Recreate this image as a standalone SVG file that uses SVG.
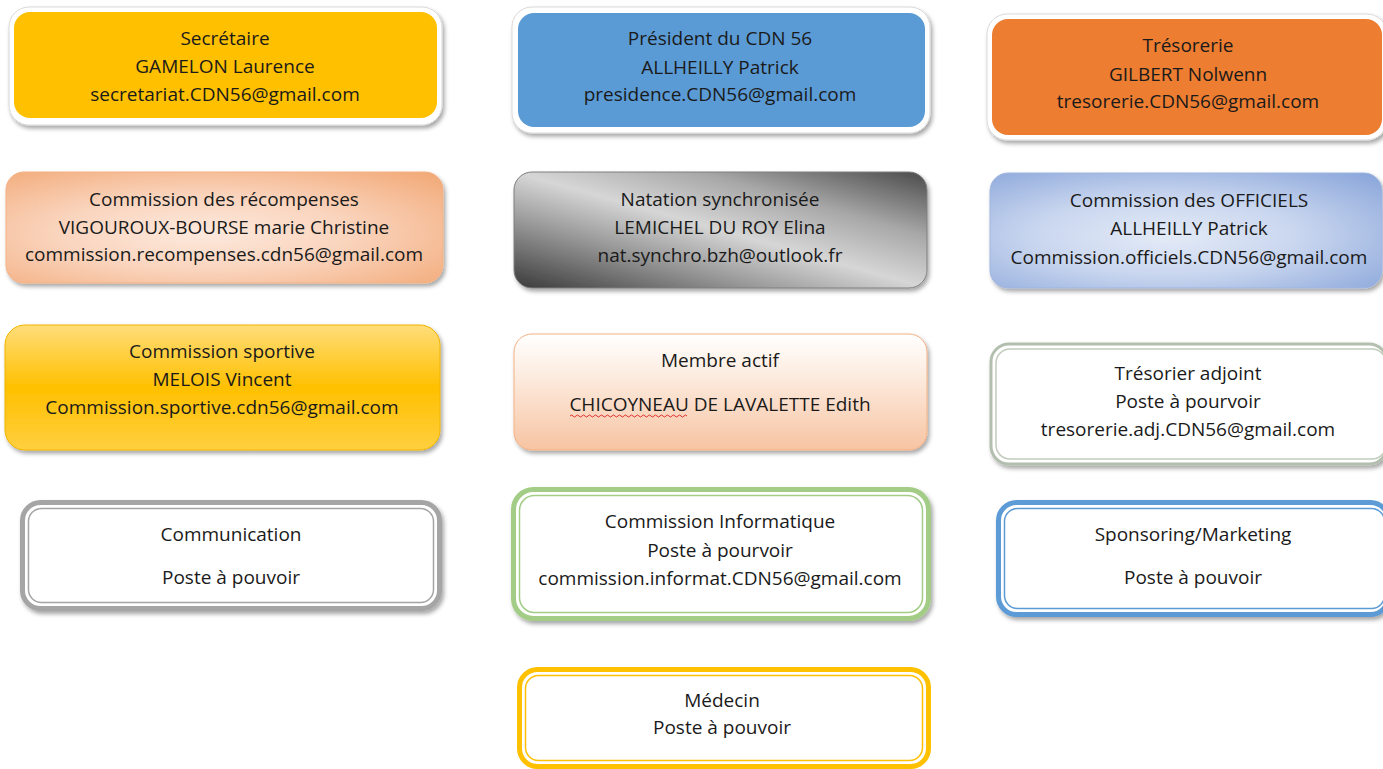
<svg xmlns="http://www.w3.org/2000/svg" width="1383" height="769" viewBox="0 0 1383 769">
<style>
text{font-family:"Open Sans","Noto Sans","Liberation Sans",sans-serif;font-size:19px;fill:#1a1a1a;text-anchor:middle}
.frame{fill:#ffffff;stroke:#d9d9d9;stroke-width:1}
.dbl{fill:none;stroke-width:1.5}
</style>
<defs>
<filter id="sh" x="-5%" y="-10%" width="112%" height="125%">
<feDropShadow dx="2" dy="3" stdDeviation="2" flood-color="#000" flood-opacity="0.35"/>
</filter>
<radialGradient id="gPeach" cx="0.45" cy="0.55" r="0.75">
<stop offset="0" stop-color="#fde9dd"/>
<stop offset="0.45" stop-color="#fad4bd"/>
<stop offset="1" stop-color="#f2a977"/>
</radialGradient>
<linearGradient id="gGray" x1="0" y1="1" x2="1" y2="0">
<stop offset="0" stop-color="#3a3a3a"/>
<stop offset="0.3" stop-color="#9a9a9a"/>
<stop offset="0.5" stop-color="#d6d6d6"/>
<stop offset="0.72" stop-color="#a8a8a8"/>
<stop offset="1" stop-color="#4a4a4a"/>
</linearGradient>
<radialGradient id="gBlue" cx="0.45" cy="0.55" r="0.75">
<stop offset="0" stop-color="#e4ebf7"/>
<stop offset="0.45" stop-color="#c9d6ef"/>
<stop offset="1" stop-color="#8aa6da"/>
</radialGradient>
<linearGradient id="gYellow" x1="0" y1="0" x2="0" y2="1">
<stop offset="0" stop-color="#ffdd7a"/>
<stop offset="0.5" stop-color="#ffc000"/>
<stop offset="1" stop-color="#ffcf3f"/>
</linearGradient>
<linearGradient id="gMember" x1="0" y1="0" x2="0" y2="1">
<stop offset="0" stop-color="#ffffff"/>
<stop offset="0.3" stop-color="#fdefe5"/>
<stop offset="1" stop-color="#f7c4a2"/>
</linearGradient>
</defs>

<g id="connectors"/>

<g id="secretaire">
<rect class="frame" x="9" y="7" width="433" height="118" rx="20" filter="url(#sh)"/>
<rect x="14" y="12" width="423" height="106" rx="16" fill="#ffc000"/>
<text x="225" y="45">Secrétaire</text>
<text x="225" y="73">GAMELON Laurence</text>
<text x="225" y="101">secretariat.CDN56@gmail.com</text>
</g>

<g id="president">
<rect class="frame" x="512" y="7" width="418" height="126" rx="20" filter="url(#sh)"/>
<rect x="518" y="13" width="407" height="114" rx="16" fill="#5b9bd5"/>
<text x="720" y="45">Président du CDN 56</text>
<text x="720" y="74">ALLHEILLY Patrick</text>
<text x="720" y="101">presidence.CDN56@gmail.com</text>
</g>

<g id="tresorerie">
<rect class="frame" x="987" y="14" width="400" height="126" rx="20" filter="url(#sh)"/>
<rect x="992" y="19" width="390" height="116" rx="16" fill="#ed7d31"/>
<text x="1188" y="52">Trésorerie</text>
<text x="1188" y="81">GILBERT Nolwenn</text>
<text x="1188" y="108">tresorerie.CDN56@gmail.com</text>
</g>

<g id="recompenses">
<rect x="6" y="172" width="437" height="111" rx="18" fill="url(#gPeach)" stroke="#f4b183" stroke-width="1" filter="url(#sh)"/>
<text x="224" y="206">Commission des récompenses</text>
<text x="224" y="234">VIGOUROUX-BOURSE marie Christine</text>
<text x="224" y="261">commission.recompenses.cdn56@gmail.com</text>
</g>

<g id="natation">
<rect x="514" y="172" width="413" height="116" rx="18" fill="url(#gGray)" stroke="#7f7f7f" stroke-width="1" filter="url(#sh)"/>
<text x="720" y="206">Natation synchronisée</text>
<text x="720" y="234">LEMICHEL DU ROY Elina</text>
<text x="720" y="262">nat.synchro.bzh@outlook.fr</text>
</g>

<g id="officiels">
<rect x="990" y="173" width="392" height="115" rx="18" fill="url(#gBlue)" stroke="#9fb6e0" stroke-width="1" filter="url(#sh)"/>
<text x="1189" y="207">Commission des OFFICIELS</text>
<text x="1189" y="235">ALLHEILLY Patrick</text>
<text x="1189" y="264">Commission.officiels.CDN56@gmail.com</text>
</g>

<g id="sportive">
<rect x="5" y="325" width="435" height="125" rx="20" fill="url(#gYellow)" stroke="#f0b400" stroke-width="1" filter="url(#sh)"/>
<text x="222" y="358">Commission sportive</text>
<text x="222" y="386">MELOIS Vincent</text>
<text x="222" y="414">Commission.sportive.cdn56@gmail.com</text>
</g>

<g id="membre">
<rect x="514" y="334" width="413" height="116" rx="18" fill="url(#gMember)" stroke="#f4b183" stroke-width="1" filter="url(#sh)"/>
<text x="720" y="367">Membre actif</text>
<text x="720" y="411">CHICOYNEAU DE LAVALETTE Edith</text>
<path d="M570 416 q1.5 -2 3 0 t3 0 t3 0 t3 0 t3 0 t3 0 t3 0 t3 0 t3 0 t3 0 t3 0 t3 0 t3 0 t3 0 t3 0 t3 0 t3 0 t3 0 t3 0 t3 0 t3 0 t3 0 t3 0 t3 0 t3 0 t3 0 t3 0 t3 0 t3 0 t3 0 t3 0 t3 0 t3 0 t3 0 t3 0 t3 0 t3 0 t3 0 t3 0" fill="none" stroke="#e03030" stroke-width="1"/>
</g>

<g id="tresorier-adjoint">
<rect x="991" y="344" width="396" height="120" rx="18" fill="#ffffff" stroke="#b3bfae" stroke-width="3" filter="url(#sh)"/>
<rect class="dbl" x="996" y="349" width="390" height="110" rx="14" stroke="#c2ccbd"/>
<text x="1188" y="380">Trésorier adjoint</text>
<text x="1188" y="408">Poste à pourvoir</text>
<text x="1188" y="436">tresorerie.adj.CDN56@gmail.com</text>
</g>

<g id="communication">
<rect x="22.5" y="502.5" width="417" height="106" rx="18" fill="#ffffff" stroke="#a5a5a5" stroke-width="5" filter="url(#sh)"/>
<rect class="dbl" x="28.5" y="508.5" width="405" height="94" rx="13" stroke="#a5a5a5"/>
<text x="231" y="541">Communication</text>
<text x="231" y="584">Poste à pouvoir</text>
</g>

<g id="informatique">
<rect x="513.5" y="489.5" width="415" height="129" rx="20" fill="#ffffff" stroke="#a3cd86" stroke-width="5" filter="url(#sh)"/>
<rect class="dbl" x="519.5" y="495.5" width="403" height="117" rx="15" stroke="#a3cd86"/>
<text x="720" y="528">Commission Informatique</text>
<text x="720" y="557">Poste à pourvoir</text>
<text x="720" y="585">commission.informat.CDN56@gmail.com</text>
</g>

<g id="sponsoring">
<rect x="998.5" y="502.5" width="390" height="112" rx="18" fill="#ffffff" stroke="#5b9bd5" stroke-width="5" filter="url(#sh)"/>
<rect class="dbl" x="1004.5" y="508.5" width="380" height="100" rx="13" stroke="#5b9bd5"/>
<text x="1193" y="541">Sponsoring/Marketing</text>
<text x="1193" y="584">Poste à pouvoir</text>
</g>

<g id="medecin">
<rect x="519.5" y="669.5" width="409" height="97" rx="18" fill="#ffffff" stroke="#ffc000" stroke-width="5"/>
<rect class="dbl" x="525.5" y="675.5" width="397" height="85" rx="13" stroke="#ffc000"/>
<text x="722" y="707">Médecin</text>
<text x="722" y="734">Poste à pouvoir</text>
</g>
</svg>
